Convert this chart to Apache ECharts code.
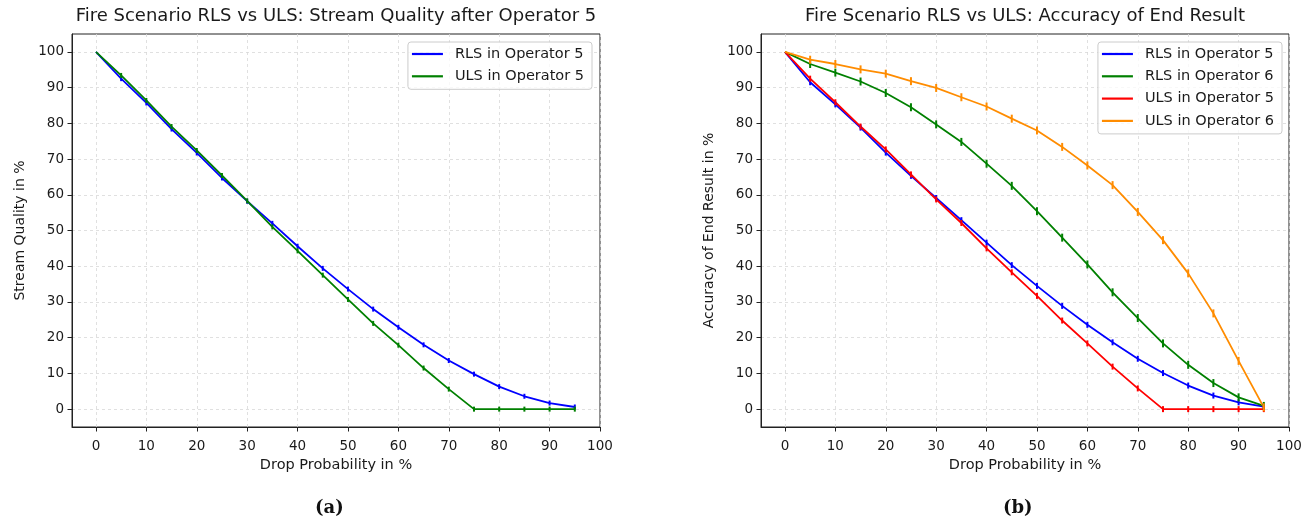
<!DOCTYPE html>
<html>
<head>
<meta charset="utf-8">
<script src="https://cdn.jsdelivr.net/npm/echarts@6/dist/echarts.min.js"></script>
<style>
html, body { margin: 0; padding: 0; background: #fff; }
.pane { position: absolute; top: 0; height: 525px; }
#chartA { left: 0; width: 690px; }
#chartB { left: 690px; width: 625px; }
</style>
</head>
<body>
<div id="chartA" class="pane"></div>
<div id="chartB" class="pane"></div>
<script>
// drop probability (x) and tick labels
var dropProb = [0, 5, 10, 15, 20, 25, 30, 35, 40, 45, 50, 55, 60, 65, 70, 75, 80, 85, 90, 95];
var tickValues = [0, 10, 20, 30, 40, 50, 60, 70, 80, 90, 100];

// (a) stream quality after operator 5
var rlsOp5A = [100, 92.5, 85.7, 78.4, 71.7, 64.7, 58.2, 52.0, 45.6, 39.4, 33.6, 28.0, 22.9, 18.0, 13.6, 9.8, 6.3, 3.6, 1.7, 0.6];
var ulsOp5A = [100, 93.4, 86.4, 79.1, 72.4, 65.4, 58.3, 51.0, 44.3, 37.5, 30.7, 24.0, 17.9, 11.5, 5.6, 0, 0, 0, 0, 0];

// (b) accuracy of end result
var rlsOp5B = [100, 91.5, 85.3, 78.8, 71.8, 65.3, 59.1, 52.9, 46.6, 40.3, 34.5, 28.9, 23.6, 18.7, 14.1, 10.1, 6.6, 3.8, 1.9, 0.7];
var rlsOp6B = [100, 96.6, 94.2, 91.7, 88.5, 84.5, 79.7, 74.8, 68.7, 62.5, 55.4, 48.0, 40.5, 32.7, 25.5, 18.4, 12.4, 7.3, 3.3, 0.9];
var ulsOp5B = [100, 92.5, 85.9, 79.1, 72.7, 65.7, 58.7, 52.1, 45.0, 38.3, 31.7, 24.8, 18.4, 11.9, 5.8, 0, 0, 0, 0, 0];
var ulsOp6B = [100, 97.8, 96.6, 95.1, 93.9, 91.8, 89.9, 87.3, 84.7, 81.3, 78.0, 73.4, 68.2, 62.7, 55.2, 47.3, 38.0, 26.8, 13.5, 0.5];

var FONT = 'DejaVu Sans';
var INK = '#1a1a1a';

function pairs(ys) {
	return dropProb.map(function (x, i) { return [x, ys[i]]; });
}

function makeXAxis() {
	return {
		type: 'value', min: -4.75, max: 100,
		name: 'Drop Probability in %', nameLocation: 'middle', nameGap: 31,
		nameTextStyle: { fontFamily: FONT, fontSize: 14.5, color: INK },
		axisLine: { show: true, onZero: false, lineStyle: { color: '#222', width: 1 } },
		axisTick: { show: true, length: 4.5, customValues: tickValues, lineStyle: { color: '#222' } },
		axisLabel: { customValues: tickValues, margin: 12, fontFamily: FONT, fontSize: 13.5, color: INK },
		splitLine: { show: true, lineStyle: { color: '#d8d8d8', type: [3, 3], width: 0.8 } }
	};
}

function makeYAxis(name) {
	return {
		type: 'value', min: -5, max: 105,
		name: name, nameLocation: 'middle', nameGap: 45, nameRotate: 90,
		nameTextStyle: { fontFamily: FONT, fontSize: 14, color: INK },
		axisLine: { show: true, onZero: false, lineStyle: { color: '#222', width: 1 } },
		axisTick: { show: true, length: 4.5, customValues: tickValues, lineStyle: { color: '#222' } },
		axisLabel: { customValues: tickValues, margin: 8, fontFamily: FONT, fontSize: 13.5, color: INK },
		splitLine: { show: true, lineStyle: { color: '#d8d8d8', type: [3, 3], width: 0.8 } }
	};
}

function makeSeries(name, ys, color, barH) {
	return {
		type: 'line', name: name, data: pairs(ys),
		color: color,
		lineStyle: { width: 1.8, color: color },
		itemStyle: { color: color },
		symbol: 'rect',
		symbolSize: function (v) { return v[0] === 0 ? 0 : [2, barH]; },
		emphasis: { disabled: true },
		animation: false
	};
}

function makeLegend(right, names) {
	return {
		orient: 'vertical', right: right, top: 42,
		padding: [4, 8, 5, 4], itemGap: 6.3, itemWidth: 31, itemHeight: 2.2, icon: 'rect',
		backgroundColor: 'rgba(255,255,255,0.8)', borderColor: '#cccccc', borderWidth: 1, borderRadius: 3,
		textStyle: { fontFamily: FONT, fontSize: 14.5, lineHeight: 16, color: INK, padding: [0, 0, 0, 7] },
		data: names
	};
}

function makeTitle(text, cx) {
	return {
		text: text, left: cx, top: 7, textAlign: 'center', padding: 0,
		textStyle: { fontFamily: FONT, fontSize: 18, fontWeight: 'normal', color: INK }
	};
}

function caption(text, cx) {
	return [{
		type: 'text', left: cx - 15, top: 499,
		style: { text: text, font: 'bold 18px "DejaVu Serif"', fill: '#111' }
	}];
}

var chartA = echarts.init(document.getElementById('chartA'));
chartA.setOption({
	animation: false,
	title: makeTitle('Fire Scenario RLS vs ULS: Stream Quality after Operator 5', 336),
	grid: { left: 72, top: 34, width: 528, height: 393, show: true, borderColor: '#222', borderWidth: 1 },
	xAxis: makeXAxis(),
	yAxis: makeYAxis('Stream Quality in %'),
	legend: makeLegend(98, ['RLS in Operator 5', 'ULS in Operator 5']),
	graphic: caption('(a)', 330),
	series: [
		makeSeries('RLS in Operator 5', rlsOp5A, '#0000ff', 5),
		makeSeries('ULS in Operator 5', ulsOp5A, '#008000', 5)
	]
});

var chartB = echarts.init(document.getElementById('chartB'));
chartB.setOption({
	animation: false,
	title: makeTitle('Fire Scenario RLS vs ULS: Accuracy of End Result', 335),
	grid: { left: 71, top: 34, width: 528, height: 393, show: true, borderColor: '#222', borderWidth: 1 },
	xAxis: makeXAxis(),
	yAxis: makeYAxis('Accuracy of End Result in %'),
	legend: makeLegend(33, ['RLS in Operator 5', 'RLS in Operator 6', 'ULS in Operator 5', 'ULS in Operator 6']),
	graphic: caption('(b)', 328),
	series: [
		makeSeries('RLS in Operator 5', rlsOp5B, '#0000ff', 6),
		makeSeries('RLS in Operator 6', rlsOp6B, '#008000', 8),
		makeSeries('ULS in Operator 5', ulsOp5B, '#ff0000', 6),
		makeSeries('ULS in Operator 6', ulsOp6B, '#ff8c00', 8)
	]
});
</script>
</body>
</html>
